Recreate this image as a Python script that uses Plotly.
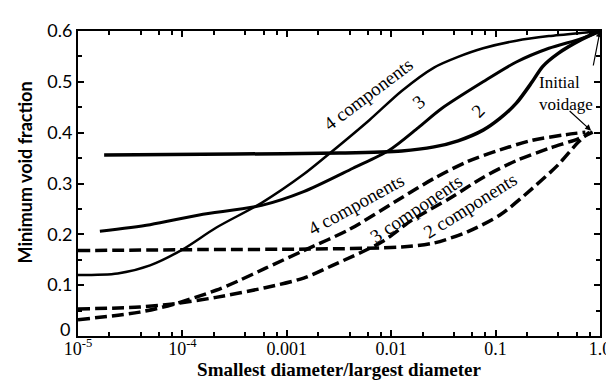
import plotly.graph_objects as go

# ---- data ----
solid4_x = [1e-5, 2.4e-5, 4.9e-5, 1e-4, 2.1e-4, 5.75e-4, 1.45e-3, 2.6e-3, 6.2e-3, 0.0126, 0.0257, 0.0437, 0.0759, 0.158, 0.324, 0.813, 1.0]
solid4_y = [0.120, 0.123, 0.139, 0.170, 0.213, 0.262, 0.318, 0.360, 0.425, 0.482, 0.528, 0.549, 0.566, 0.581, 0.590, 0.598, 0.600]

solid3_x = [1.62e-5, 4.9e-5, 1.45e-4, 5.75e-4, 1.45e-3, 4.3e-3, 9.5e-3, 0.0182, 0.0302, 0.0759, 0.158, 0.324, 0.661, 1.0]
solid3_y = [0.206, 0.219, 0.238, 0.257, 0.284, 0.330, 0.365, 0.410, 0.447, 0.500, 0.539, 0.566, 0.585, 0.600]

solid2_x = [1.78e-5, 3.2e-4, 3.2e-3, 0.0126, 0.0257, 0.0437, 0.0759, 0.110, 0.158, 0.224, 0.282, 0.398, 0.661, 1.0]
solid2_y = [0.356, 0.358, 0.360, 0.364, 0.372, 0.384, 0.405, 0.428, 0.458, 0.500, 0.530, 0.556, 0.583, 0.600]

dash4_x = [1e-5, 3.9e-5, 8.1e-5, 2.1e-4, 3.4e-4, 6.2e-4, 1.45e-3, 4.0e-3, 0.0126, 0.0257, 0.0537, 0.110, 0.224, 0.468, 0.724]
dash4_y = [0.032, 0.047, 0.062, 0.090, 0.108, 0.133, 0.168, 0.210, 0.272, 0.310, 0.343, 0.366, 0.385, 0.396, 0.401]

dash3_x = [1e-5, 3.9e-5, 8.1e-5, 2.1e-4, 6.2e-4, 1.45e-3, 2.75e-3, 8.1e-3, 0.0158, 0.0372, 0.0759, 0.158, 0.324, 0.617, 0.851]
dash3_y = [0.053, 0.057, 0.063, 0.076, 0.095, 0.114, 0.139, 0.185, 0.228, 0.272, 0.312, 0.345, 0.369, 0.388, 0.401]

dash2_x = [1e-5, 1.58e-4, 1.6e-3, 0.0126, 0.0257, 0.0537, 0.110, 0.224, 0.398, 0.617, 0.794]
dash2_y = [0.168, 0.170, 0.171, 0.175, 0.183, 0.205, 0.238, 0.290, 0.337, 0.381, 0.401]

x_tickvals = [1e-5, 1e-4, 1e-3, 1e-2, 1e-1, 1.0]
x_ticktext = ["10<sup>-5</sup>", "10<sup>-4</sup>", "0.001", "0.01", "0.1", "1.0"]
y_tickvals = [0, 0.1, 0.2, 0.3, 0.4, 0.5, 0.6]
y_ticktext = ["", "0.1", "0.2", "0.3", "0.4", "0.5", "0.6"]
y_zero_label = "0"   # drawn slightly above the axis, as in the reference
x_minor = [m * d for d in [1e-5, 1e-4, 1e-3, 1e-2, 1e-1] for m in (2, 4, 6, 8)]

x_title = "Smallest diameter/largest diameter"
y_title = "Minimum void fraction"

SERIF = "Liberation Serif"
SANS = "Lato"

fig = go.Figure()
solid = [(solid4_x, solid4_y, 2.5), (solid3_x, solid3_y, 3), (solid2_x, solid2_y, 3.5)]
for xs, ys, w in solid:
    fig.add_trace(go.Scatter(x=xs, y=ys, mode="lines",
                             line=dict(color="black", width=w, shape="spline", smoothing=0.8),
                             showlegend=False, hoverinfo="skip"))
for xs, ys in [(dash4_x, dash4_y), (dash3_x, dash3_y), (dash2_x, dash2_y)]:
    fig.add_trace(go.Scatter(x=xs, y=ys, mode="lines",
                             line=dict(color="black", width=3.5, dash="12px,5px", shape="spline", smoothing=0.8),
                             showlegend=False, hoverinfo="skip"))

def lbl(text, lx, y, ang, size=19, align="center"):
    fig.add_annotation(x=lx, y=y, text=text, showarrow=False, textangle=ang, align=align,
                       font=dict(family=SERIF, size=size, color="black"))

lbl("4 components", -2.227, 0.476, -37)
lbl("3", -1.729, 0.461, -40)
lbl("2", -1.165, 0.444, -45)
lbl("4 components", -2.340, 0.259, -29)
lbl("3 components", -1.758, 0.251, -34)
lbl("2 components", -1.241, 0.257, -32)
lbl("Initial<br>voidage", -0.33, 0.478, 0, size=17, align="left")

fig.add_annotation(x=0, y=0.6, ax=-7, ay=36, axref="pixel", ayref="pixel", text="",
                   showarrow=True, arrowhead=2, arrowsize=1, arrowwidth=1.2, arrowcolor="black")
fig.add_annotation(x=-0.085, y=0.404, ax=-23, ay=-21, axref="pixel", ayref="pixel", text="",
                   showarrow=True, arrowhead=2, arrowsize=1, arrowwidth=1.2, arrowcolor="black")

# "0" tick label sitting just above the bottom axis
fig.add_annotation(xref="paper", yref="y", x=0, y=0, xanchor="right", yanchor="middle",
                   xshift=-6, yshift=7, text=y_zero_label, showarrow=False,
                   font=dict(family=SANS, size=18, color="black"))
# y-axis title
fig.add_annotation(xref="paper", yref="paper", x=-0.101, y=0.537, xanchor="center", yanchor="middle",
                   text="<b>" + y_title + "</b>",
                   textangle=-90, showarrow=False, font=dict(family=SANS, size=18, color="black"))

fig.update_layout(
    width=614, height=386,
    margin=dict(l=70, r=11, t=15, b=58),
    plot_bgcolor="white", paper_bgcolor="white",
    showlegend=False,
    xaxis=dict(type="log", range=[-5, 0], tickvals=x_tickvals, ticktext=x_ticktext,
               ticks="inside", ticklen=6, tickwidth=1.5, tickcolor="black",
               showline=True, linecolor="black", linewidth=2, mirror="ticks",
               showgrid=False, zeroline=False, ticklabelstandoff=-5,
               tickfont=dict(family=SERIF, size=18, color="black"),
               minor=dict(tickvals=x_minor, ticks="inside", ticklen=4, tickcolor="black", showgrid=False),
               title=dict(text="<b>" + x_title + "</b>",
                          font=dict(family=SERIF, size=19, color="black"), standoff=0)),
    yaxis=dict(range=[0, 0.6], tickvals=y_tickvals, ticktext=y_ticktext,
               ticks="inside", ticklen=6, tickwidth=1.5, tickcolor="black",
               showline=True, linecolor="black", linewidth=2, mirror="ticks",
               showgrid=False, zeroline=False,
               tickfont=dict(family=SANS, size=18, color="black"),
               minor=dict(dtick=0.05, ticks="inside", ticklen=4, tickcolor="black", showgrid=False)),
)

fig.write_html("out.html")
